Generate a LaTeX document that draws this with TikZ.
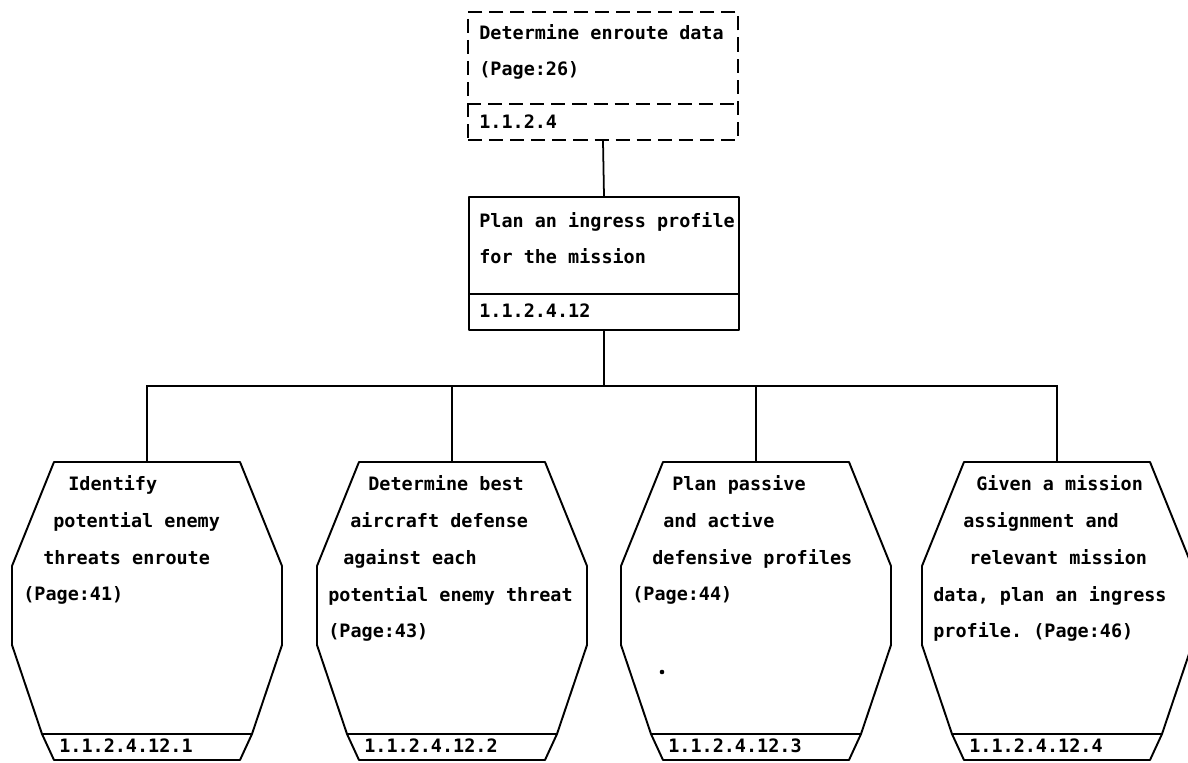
\documentclass[tikz,border=0pt]{standalone}
\usepackage{fontspec}
\setmonofont{DejaVu Sans Mono}
\usetikzlibrary{calc}

% one bottom-row box: name, centre x, text, number, lines of text
\def\subtask#1#2#3#4#5{
	\node [leaf] (#1) at (#2,611) {};
	\begin{scope}[shift={(#2,611)}]
		\draw [outline] (-93,-149) -- (93,-149) -- (135,-45) -- (135,34)
			-- (105,123) -- (-105,123) -- (-135,34) -- (-135,-45) -- cycle;
		\draw [outline] (-105,123) -- (-93,149) -- (93,149) -- (105,123);
	\end{scope}
	\node [tasktext] (#1 text) at (#2-124,490+37*#5-37) {#3};
	\node [tasknum] (#1 num) at (#2-88,753) {#4};
}

\begin{document}
\begin{tikzpicture}[x=0.02cm, y=-0.02cm,
	outline/.style={line width=1.1pt, line join=round},
	leaf/.style={minimum width=5.4cm, minimum height=5.96cm, inner sep=0pt},
	taskbox/.style={outline, minimum width=5.4cm, inner sep=0pt},
	tasktext/.style={anchor=base west, align=left, inner sep=0pt,
		font=\fontsize{10.5}{21}\selectfont\ttfamily\bfseries},
	tasknum/.style={tasktext},
	link/.style={line width=1pt},
	]
	\useasboundingbox (0,0) rectangle (1188,763);

	% upper boxes
	\node [taskbox, draw, dash pattern=on 8pt off 4pt, minimum height=2.56cm]
		(enroute) at (603,76) {};
	\draw [outline, dash pattern=on 8pt off 4pt]
		([yshift=0.74cm]enroute.south west) -- ([yshift=0.74cm]enroute.south east);
	\node [tasktext] (enroute text) at (479,76)
		{Determine enroute data\\(Page:26)};
	\node [tasknum] (enroute num) at (479,129) {1.1.2.4};

	\node [taskbox, draw, minimum height=2.66cm] (ingress) at (604,263.5) {};
	\draw [outline]
		([yshift=0.74cm]ingress.south west) -- ([yshift=0.74cm]ingress.south east);
	\node [tasktext] (ingress text) at (479,264)
		{Plan an ingress profile\\for the mission};
	\node [tasknum] (ingress num) at (479,318) {1.1.2.4.12};

	% lower boxes
	\subtask{threats}{147}{\hspace*{0.9cm}Identify\\
		\hspace*{0.6cm}potential enemy\\
		\hspace*{0.4cm}threats enroute\\
		(Page:41)}{1.1.2.4.12.1}{4}
	\subtask{defense}{452}{\hspace*{0.8cm}Determine best\\
		\hspace*{0.44cm}aircraft defense\\
		\hspace*{0.3cm}against each\\
		potential enemy threat\\
		(Page:43)}{1.1.2.4.12.2}{5}
	\subtask{profiles}{756}{\hspace*{0.8cm}Plan passive\\
		\hspace*{0.62cm}and active\\
		\hspace*{0.4cm}defensive profiles\\
		(Page:44)}{1.1.2.4.12.3}{4}
	\subtask{assign}{1057}{\hspace*{0.86cm}Given a mission\\
		\hspace*{0.6cm}assignment and\\
		\hspace*{0.72cm}relevant mission\\
		data, plan an ingress\\
		profile. (Page:46)}{1.1.2.4.12.4}{5}
	\fill (662,672) circle (1.3pt);

	% connectors
	\draw [link] (enroute.south) -- (ingress.north);
	\draw [link] (ingress.south) -- ++(0,55) coordinate (fork);
	\foreach \t in {threats,defense,profiles,assign}
		\draw [link] (fork) -| (\t.north);
\end{tikzpicture}
\end{document}
